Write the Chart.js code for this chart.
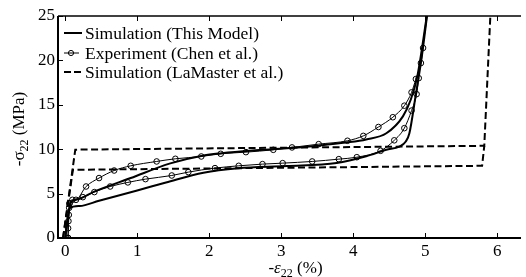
<!DOCTYPE html>
<html>
<head>
<meta charset="utf-8">
<script src="https://cdn.jsdelivr.net/npm/chart.js@4.4.0/dist/chart.umd.min.js"></script>
<style>
  html, body { margin: 0; padding: 0; background: #fff; }
  canvas { display: block; }
</style>
</head>
<body>
<canvas id="myChart" width="526" height="277"></canvas>
<script>
//Data_
const modelUpperX = [0, 0.085, 0.15, 0.41, 0.91, 1.46, 1.92, 2.17, 2.6, 3.08, 3.5, 3.9, 4.18, 4.46, 4.69, 4.8, 4.89, 5.04];
const modelUpperY = [0, 4.1, 4.3, 5.25, 6.75, 8.4, 9.3, 9.55, 9.85, 10.1, 10.4, 10.75, 11.1, 11.8, 13.7, 15.6, 18.2, 26];
const modelLowerX = [0, 0.06, 0.2, 0.47, 1.0, 1.4, 1.92, 2.4, 3.08, 3.77, 4.18, 4.46, 4.64, 4.73, 4.78, 4.87, 4.95, 5.04];
const modelLowerY = [0, 3.37, 3.6, 4.2, 5.35, 6.25, 7.35, 7.85, 8.1, 8.45, 9.2, 9.93, 10.3, 10.87, 11.8, 16.2, 20.3, 26];

const expUpperX = [0.04, 0.04, 0.045, 0.05, 0.055, 0.06, 0.15, 0.29, 0.47, 0.68, 0.91, 1.27, 1.53, 1.89, 2.16, 2.51, 2.89, 3.15, 3.52, 3.92, 4.14, 4.35, 4.55, 4.71, 4.81, 4.87, 4.94, 4.97];
const expUpperY = [0, 1.1, 1.9, 2.6, 3.4, 3.9, 4.3, 5.8, 6.75, 7.6, 8.13, 8.62, 8.92, 9.18, 9.48, 9.67, 9.93, 10.2, 10.57, 10.95, 11.5, 12.5, 13.6, 14.9, 16.4, 17.9, 19.7, 21.4];
const expLowerX = [0.04, 0.06, 0.1, 0.245, 0.405, 0.625, 0.87, 1.115, 1.48, 1.71, 2.08, 2.41, 2.74, 3.02, 3.43, 3.8, 4.05, 4.38, 4.57, 4.71, 4.81, 4.88, 4.91];
const expLowerY = [0, 3.9, 4.3, 4.6, 5.17, 5.8, 6.26, 6.63, 7.04, 7.42, 7.87, 8.13, 8.32, 8.43, 8.62, 8.88, 9.1, 9.82, 11.0, 12.37, 14.35, 16.2, 18.0];

const lamUpperX = [-0.03, 0.14, 5.82, 5.91];
const lamUpperY = [0, 9.95, 10.38, 26];
const lamLowerX = [-0.03, 0.107, 5.79, 5.82];
const lamLowerY = [0, 7.68, 8.13, 10.38];

const xTicks = [0, 1, 2, 3, 4, 5, 6];
const yTicks = [0, 5, 10, 15, 20, 25];
const legendLabels = ['Simulation (This Model)', 'Experiment (Chen et al.)', 'Simulation (LaMaster et al.)'];

const serif = '"Liberation Serif", "Times New Roman", serif';
const graph = document.getElementById('myChart');

function toPoints(xs, ys) {
    return xs.map((x, i) => ({ x: x, y: ys[i] }));
}

//Plugins_
// frame + inward tick marks
const framePlugin = {
    id: 'frame',
    afterDraw(chart) {
        const { ctx, chartArea: a, scales } = chart;
        ctx.save();
        ctx.strokeStyle = '#000';
        ctx.lineWidth = 1;
        xTicks.forEach(v => {
            const px = Math.round(scales.x.getPixelForValue(v)) + 0.5;
            ctx.beginPath();
            ctx.moveTo(px, a.bottom); ctx.lineTo(px, a.bottom - 5);
            ctx.moveTo(px, a.top); ctx.lineTo(px, a.top + 5);
            ctx.stroke();
        });
        yTicks.forEach(v => {
            const py = Math.round(scales.y.getPixelForValue(v)) + 0.5;
            ctx.beginPath();
            ctx.moveTo(a.left, py); ctx.lineTo(a.left + 5, py);
            ctx.stroke();
        });
        ctx.lineWidth = 1.5;
        ctx.beginPath();
        ctx.moveTo(a.left, a.top); ctx.lineTo(a.right, a.top);
        ctx.stroke();
        ctx.lineWidth = 2;
        ctx.beginPath();
        ctx.moveTo(a.left, a.top); ctx.lineTo(a.left, a.bottom); ctx.lineTo(a.right, a.bottom);
        ctx.stroke();
        ctx.restore();
    }
};

// legend inside the plot, top-left
const legendPlugin = {
    id: 'insideLegend',
    afterDraw(chart) {
        const { ctx, chartArea: a } = chart;
        const x0 = a.left + 6, x1 = a.left + 24, tx = a.left + 27;
        const rows = [a.top + 17, a.top + 37, a.top + 56];
        ctx.save();
        ctx.strokeStyle = '#000';
        ctx.fillStyle = '#000';
        ctx.font = '17.5px ' + serif;
        ctx.textBaseline = 'middle';

        ctx.lineWidth = 2;
        ctx.beginPath(); ctx.moveTo(x0, rows[0]); ctx.lineTo(x1, rows[0]); ctx.stroke();

        ctx.lineWidth = 1;
        ctx.beginPath(); ctx.moveTo(x0, rows[1]); ctx.lineTo(x1 - 3, rows[1]); ctx.stroke();
        ctx.beginPath(); ctx.arc(x0 + 7, rows[1], 2.6, 0, Math.PI * 2); ctx.stroke();

        ctx.lineWidth = 2;
        ctx.setLineDash([7, 3]);
        ctx.beginPath(); ctx.moveTo(x0, rows[2]); ctx.lineTo(x1, rows[2]); ctx.stroke();
        ctx.setLineDash([]);

        legendLabels.forEach((t, i) => ctx.fillText(t, tx, rows[i] + 1));
        ctx.restore();
    }
};

function drawParts(ctx, parts, cx, baseline) {
    let w = 0;
    parts.forEach(p => { ctx.font = p.f; w += ctx.measureText(p.t).width; });
    let x = cx - w / 2;
    parts.forEach(p => {
        ctx.font = p.f;
        ctx.fillText(p.t, x, baseline + (p.dy || 0));
        x += ctx.measureText(p.t).width;
    });
}

// axis titles with subscripts
const titlePlugin = {
    id: 'axisTitles',
    afterDraw(chart) {
        const { ctx, chartArea: a } = chart;
        const big = '17px ' + serif, sub = '12px ' + serif;
        ctx.save();
        ctx.fillStyle = '#000';
        ctx.textBaseline = 'alphabetic';
        drawParts(ctx, [
            { t: '-', f: big },
            { t: '\u03B5', f: 'italic 17px ' + serif },
            { t: '22', f: sub, dy: 4 },
            { t: ' (%)', f: big }
        ], (a.left + a.right) / 2 + 6, 273);

        ctx.translate(24, (a.top + a.bottom) / 2 + 2);
        ctx.rotate(-Math.PI / 2);
        drawParts(ctx, [
            { t: '-\u03C3', f: big },
            { t: '22', f: sub, dy: 4 },
            { t: ' (MPa)', f: big }
        ], 0, 0);
        ctx.restore();
    }
};

//Chart_
const lineBase = { fill: false, pointRadius: 0, borderColor: '#000' };

const config = {
    type: 'line',
    data: {
        datasets: [
            { ...lineBase, data: toPoints(modelUpperX, modelUpperY), borderWidth: 2, cubicInterpolationMode: 'monotone' },
            { ...lineBase, data: toPoints(modelLowerX, modelLowerY), borderWidth: 2, cubicInterpolationMode: 'monotone' },
            { ...lineBase, data: toPoints(expUpperX, expUpperY), borderWidth: 1, cubicInterpolationMode: 'monotone',
              pointRadius: 2.8, pointBorderWidth: 1, pointBorderColor: '#000', pointBackgroundColor: 'rgba(0,0,0,0)' },
            { ...lineBase, data: toPoints(expLowerX, expLowerY), borderWidth: 1, cubicInterpolationMode: 'monotone',
              pointRadius: 2.8, pointBorderWidth: 1, pointBorderColor: '#000', pointBackgroundColor: 'rgba(0,0,0,0)' },
            { ...lineBase, data: toPoints(lamUpperX, lamUpperY), borderWidth: 2, borderDash: [7, 3.5], tension: 0 },
            { ...lineBase, data: toPoints(lamLowerX, lamLowerY), borderWidth: 2, borderDash: [7, 3.5], tension: 0 }
        ]
    },
    options: {
        responsive: false,
        animation: false,
        devicePixelRatio: 1,
        layout: { padding: { top: 16, right: 0, left: 0, bottom: 0 } },
        plugins: { legend: { display: false }, tooltip: { enabled: false } },
        scales: {
            x: {
                type: 'linear', min: -0.1, max: 6.33,
                afterBuildTicks: s => { s.ticks = xTicks.map(v => ({ value: v })); },
                afterFit: s => { s.height = 39; },
                grid: { display: false, drawTicks: false },
                border: { display: false },
                ticks: { color: '#000', padding: 3, maxRotation: 0, font: { family: serif, size: 17 } }
            },
            y: {
                type: 'linear', min: 0, max: 25,
                afterBuildTicks: s => { s.ticks = yTicks.map(v => ({ value: v })); },
                afterFit: s => { s.width = 58; },
                grid: { display: false, drawTicks: false },
                border: { display: false },
                ticks: { color: '#000', padding: 3, font: { family: serif, size: 17 } }
            }
        }
    },
    plugins: [framePlugin, legendPlugin, titlePlugin]
};

const chart = new Chart(graph, config);
</script>
</body>
</html>
